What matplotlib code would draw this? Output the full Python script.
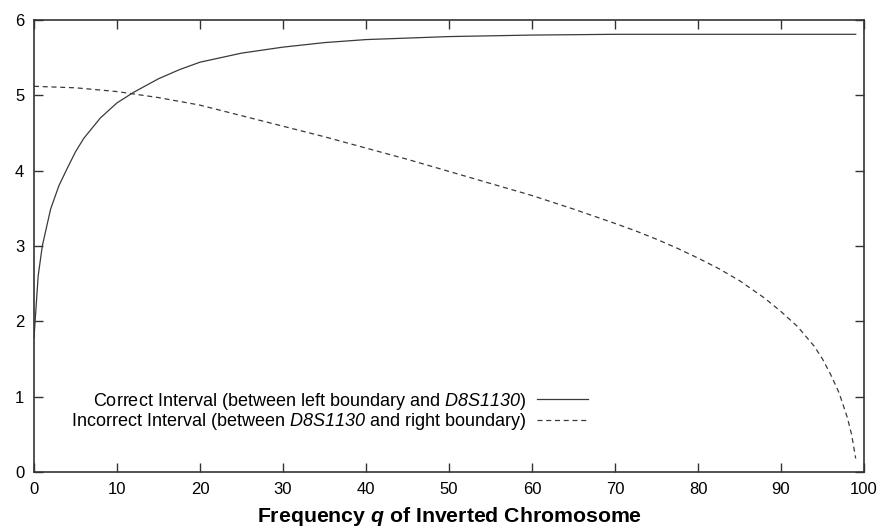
import numpy as np
import matplotlib
matplotlib.use("Agg")
import matplotlib.pyplot as plt

# values
q_correct = [0, 0.5, 1, 2, 3, 4, 5, 6, 8, 10, 12, 15, 17.5, 20, 25, 30, 35, 40, 50, 60, 70,
             80, 90, 99]
len_correct = [1.78, 2.6, 3.0, 3.49, 3.8, 4.03, 4.25, 4.43, 4.70, 4.90, 5.04, 5.22, 5.34, 5.44,
               5.56, 5.64, 5.70, 5.74, 5.78, 5.80, 5.81, 5.81, 5.81, 5.81]

q_incorrect = [0, 5, 10, 15, 20, 25, 30, 35, 40, 45, 50, 55, 60, 65, 70, 72.5, 75, 77.5, 80,
               82.5, 85, 88, 90, 92, 94, 95, 96, 97, 98, 98.5, 99]
len_incorrect = [5.12, 5.10, 5.05, 4.97, 4.87, 4.73, 4.59, 4.45, 4.30, 4.15, 3.99, 3.83, 3.67,
                 3.49, 3.30, 3.20, 3.09, 2.97, 2.84, 2.70, 2.54, 2.31, 2.13, 1.93, 1.67, 1.50,
                 1.29, 1.05, 0.72, 0.50, 0.18]

x_ticks = list(range(0, 101, 10))
y_ticks = list(range(0, 7))

plt.rcParams['font.family'] = ['Liberation Sans', 'DejaVu Sans']
plt.rcParams['mathtext.fontset'] = 'custom'
plt.rcParams['mathtext.rm'] = 'Liberation Sans'
plt.rcParams['mathtext.it'] = 'Liberation Sans:italic'
plt.rcParams['mathtext.sf'] = 'Liberation Sans:italic'   # italic digits too
plt.rcParams['mathtext.bf'] = 'Liberation Sans:bold'
plt.rcParams['mathtext.bfit'] = 'Liberation Sans:italic:bold'

W, H = 883, 529
fig = plt.figure(figsize=(W / 100, H / 100), dpi=100)
ax = fig.add_axes([34 / W, 1 - 472 / H, (864 - 34) / W, (472 - 20) / H])

line_col = '#3a3a3a'
ax.plot(q_correct, len_correct, color=line_col, lw=0.9,
        label='Correct Interval (between left boundary and $\\mathsf{D8S1130}$)')
ax.plot(q_incorrect, len_incorrect, color=line_col, lw=0.9, dashes=(4, 3),
        label='Incorrect Interval (between $\\mathsf{D8S1130}$ and right boundary)')

ax.set_xlim(0, 100)
ax.set_ylim(0, 6)
ax.set_xticks(x_ticks)
ax.set_yticks(y_ticks)
ax.tick_params(direction='in', length=6.5, width=1.0, color='#333333', labelsize=12,
               top=True, right=True, pad=7)
for s in ax.spines.values():
    s.set_color('#333333')
    s.set_linewidth(1.2)

fig.text(450 / W, 1 - 522 / H, 'Frequency $\\mathbfit{q}$ of Inverted Chromosome',
         fontsize=15.3, fontweight='bold', ha='center', va='baseline')

ax.legend(loc='center right', bbox_to_anchor=(588 / W, 1 - 411.5 / H),
          bbox_transform=fig.transFigure, frameon=False, markerfirst=False,
          fontsize=13, handlelength=2.8, handletextpad=0.6, labelspacing=0.0,
          borderpad=0, borderaxespad=0)

fig.savefig('out.png', dpi=100)
